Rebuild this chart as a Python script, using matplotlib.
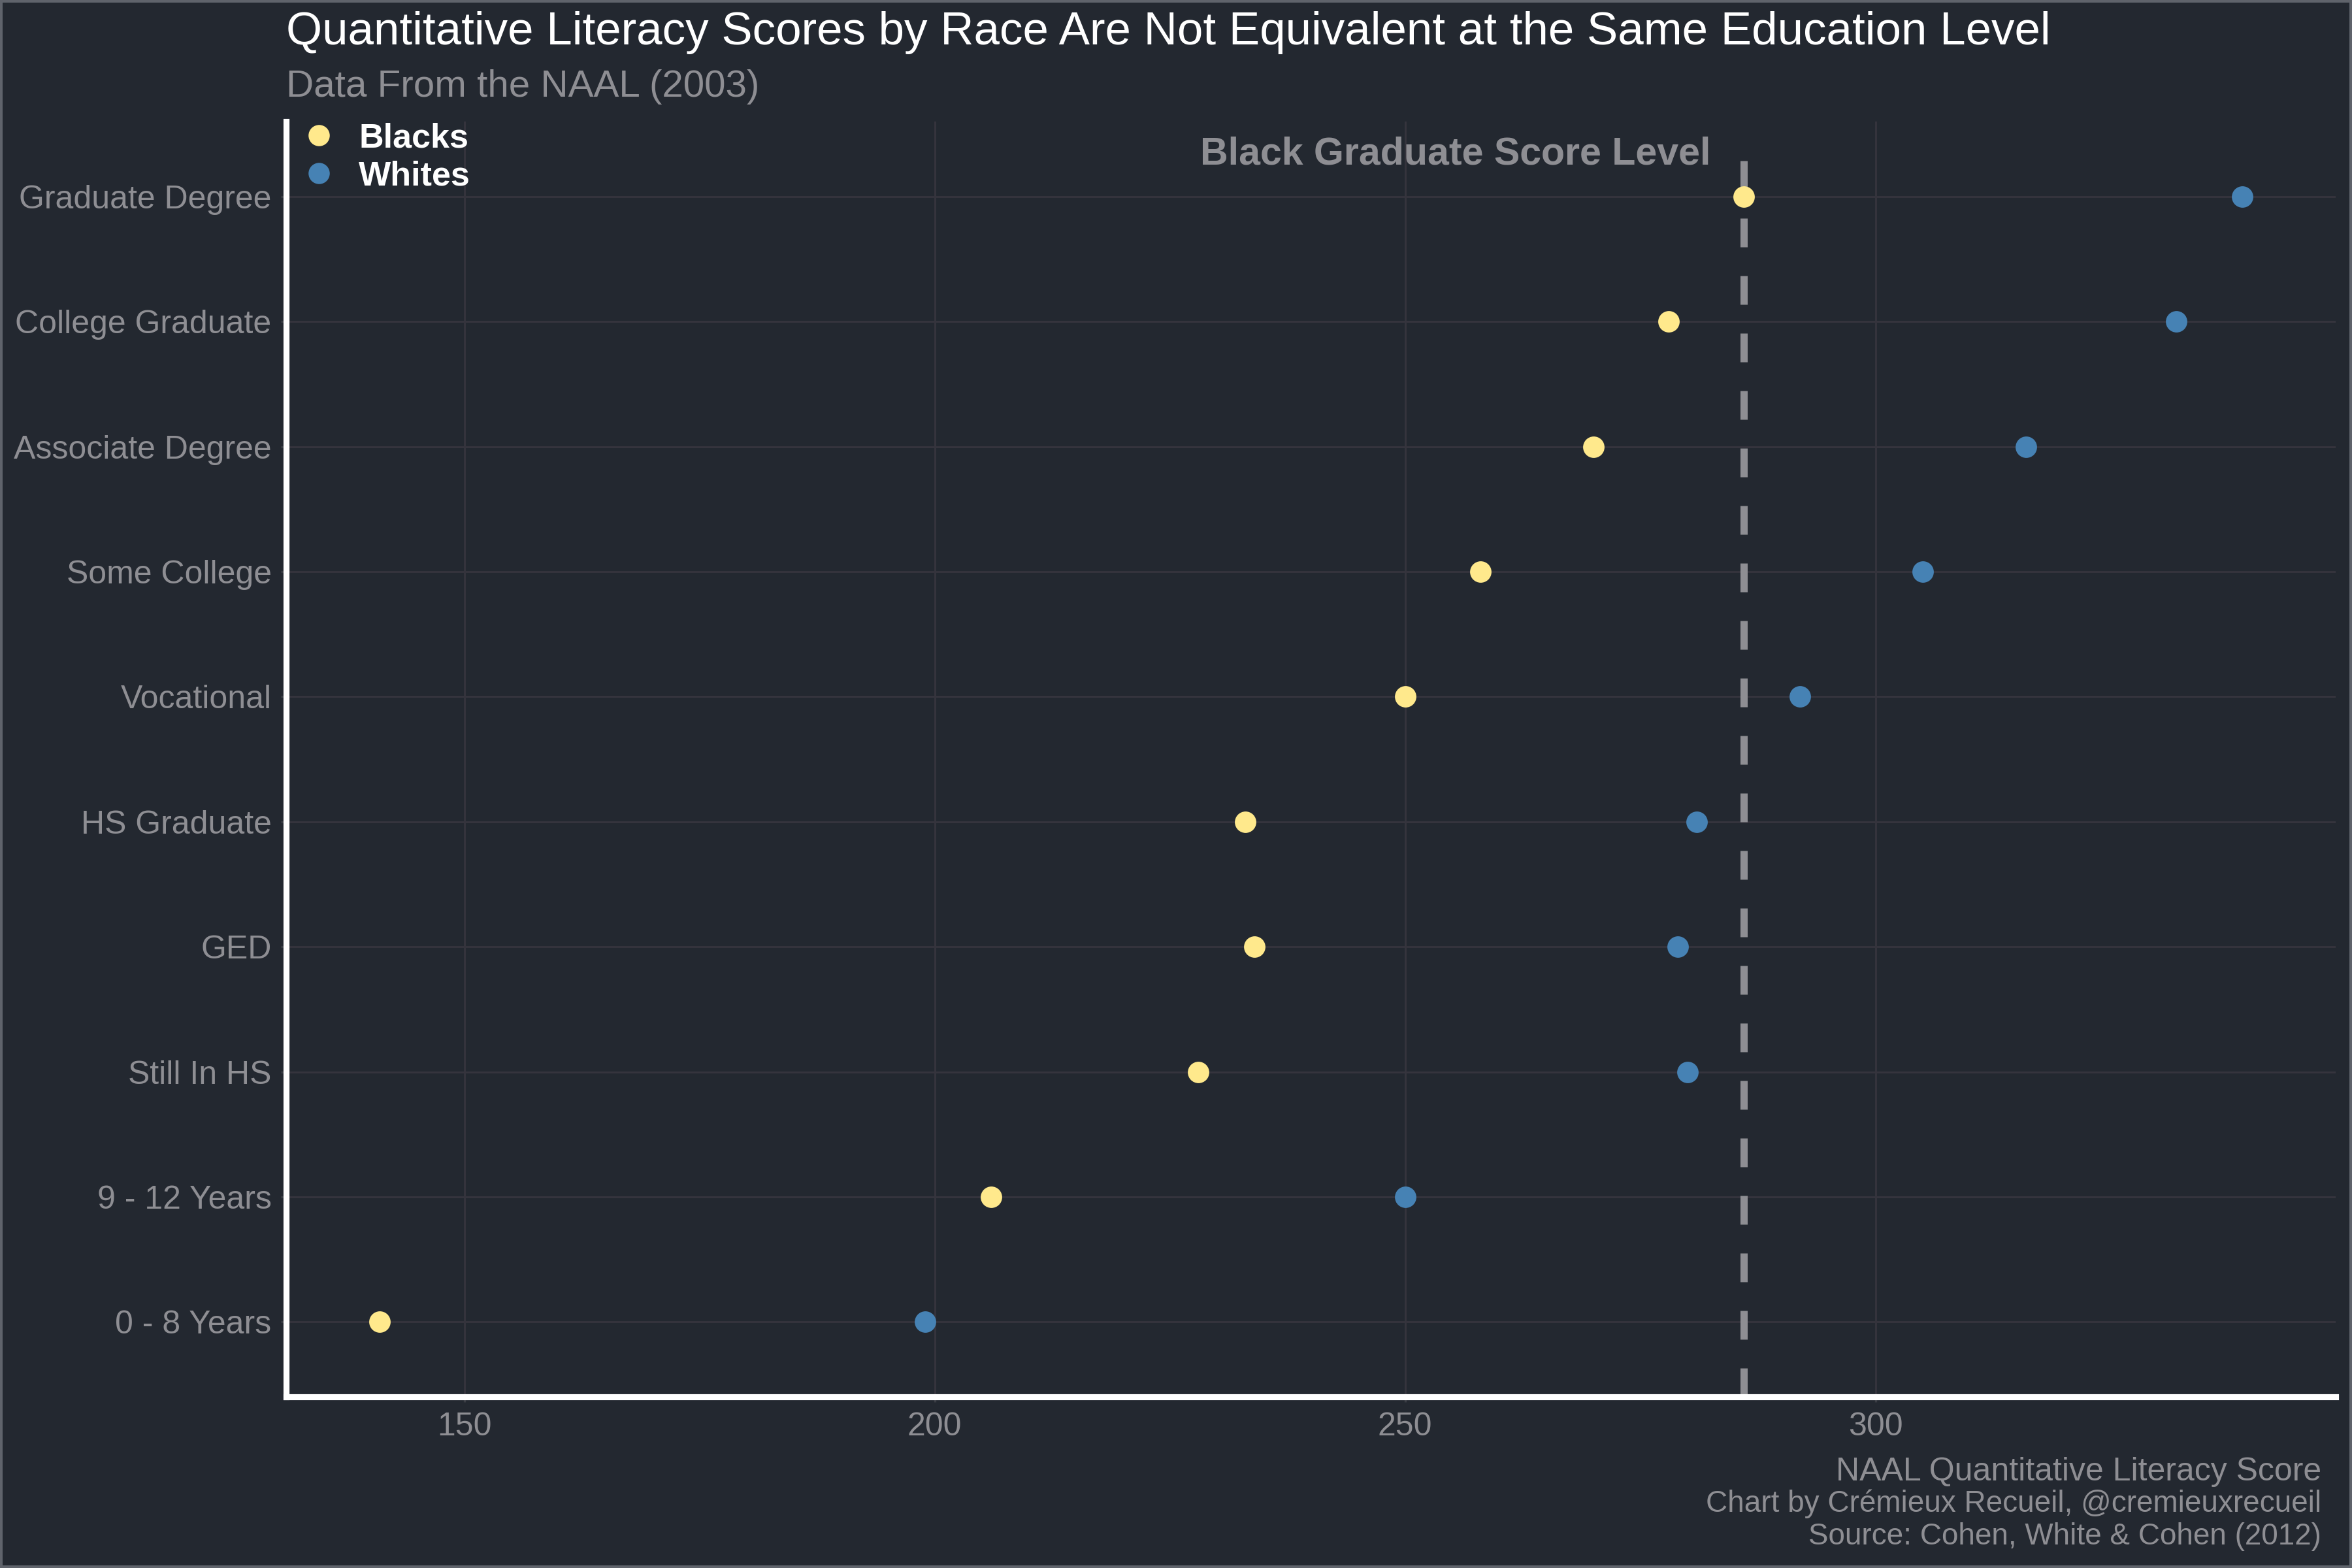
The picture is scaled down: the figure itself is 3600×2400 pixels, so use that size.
import numpy as np
import matplotlib.pyplot as plt
from matplotlib.lines import Line2D

plt.rcParams['font.family'] = ['Liberation Sans', 'DejaVu Sans']

# education levels, bottom to top
levels = ["0 - 8 Years", "9 - 12 Years", "Still In HS", "GED", "HS Graduate",
          "Vocational", "Some College", "Associate Degree", "College Graduate",
          "Graduate Degree"]
blacks = [141, 206, 228, 234, 233, 250, 258, 270, 278, 286]
whites = [199, 250, 280, 279, 281, 292, 305, 316, 332, 339]
black_grad = 286
xticks = [150, 200, 250, 300]

bg = "#232830"
grey = "#8e8e93"
yellow = "#ffe98c"
blue = "#4682b4"

fig = plt.figure(figsize=(12, 8), dpi=300, facecolor=bg, edgecolor="#5f636b", linewidth=1.5)
ax = fig.add_axes([0.1218, 0.1091, 0.8712, 0.8134])
ax.set_facecolor(bg)

y = np.arange(len(levels))

ax.grid(True, color="#35343d", lw=0.7, zorder=0)
ax.set_axisbelow(True)

ax.vlines(black_grad, -0.6, 9.4, color=grey, lw=2.64, linestyles=(0, (4, 4)),
          capstyle="butt", zorder=2)

ax.scatter(blacks, y, s=62, color=yellow, zorder=3, linewidths=0)
ax.scatter(whites, y, s=62, color=blue, zorder=3, linewidths=0)

ax.text(282.5, 9.34, "Black Graduate Score Level", ha="right", va="center",
        fontsize=14.2, fontweight="bold", color=grey)

ax.set_xlim(131.1, 348.9)
ax.set_ylim(-0.6, 9.6)
ax.set_xticks(xticks)
ax.set_yticks(y)
ax.set_yticklabels(levels)
ax.tick_params(colors="#3a3d44", labelcolor=grey, labelsize=12, length=2, width=0.8)

for side in ["top", "right"]:
    ax.spines[side].set_visible(False)
for side in ["left", "bottom"]:
    ax.spines[side].set_color("white")
    ax.spines[side].set_linewidth(2.2)

handles = [Line2D([], [], marker="o", ls="", color=yellow, markersize=7.8, mew=0),
           Line2D([], [], marker="o", ls="", color=blue, markersize=7.8, mew=0)]
leg = ax.legend(handles, ["Blacks", "Whites"], loc="upper left",
                bbox_to_anchor=(-0.004, 1.018), frameon=False, borderpad=0.2,
                handletextpad=0.67, handlelength=1.0, labelspacing=0.17,
                prop={"weight": "bold", "size": 12.5})
for t in leg.get_texts():
    t.set_color("white")

fig.text(0.1218, 0.979, "Quantitative Literacy Scores by Race Are Not Equivalent at the Same Education Level",
         ha="left", va="center", fontsize=17, color="white")
fig.text(0.1218, 0.9445, "Data From the NAAL (2003)", ha="left", va="center",
         fontsize=14, color=grey)

fig.text(0.987, 0.0612, "NAAL Quantitative Literacy Score", ha="right", va="center",
         fontsize=12, color=grey)
fig.text(0.987, 0.041, "Chart by Crémieux Recueil, @cremieuxrecueil", ha="right",
         va="center", fontsize=11, color=grey)
fig.text(0.987, 0.020, "Source: Cohen, White & Cohen (2012)", ha="right",
         va="center", fontsize=11, color=grey)

fig.savefig("out.png", dpi=300, facecolor=bg, edgecolor=fig.get_edgecolor())
